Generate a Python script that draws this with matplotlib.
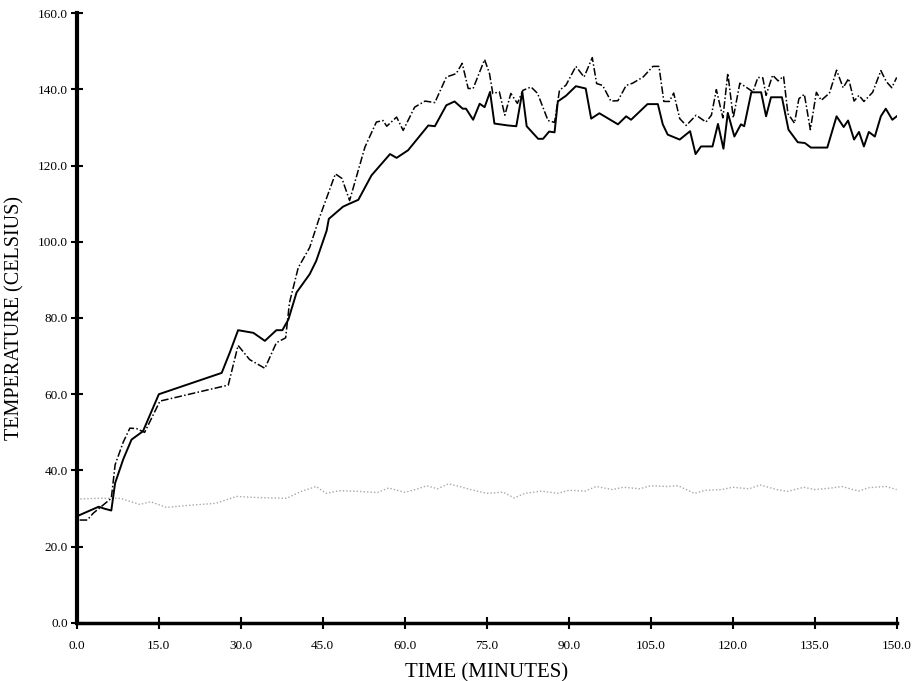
"""Temperature vs time, three traces."""
import matplotlib
matplotlib.use("Agg")
import matplotlib.pyplot as plt
import numpy as np

# solid trace
t_solid = [0.5, 2.4, 4.0, 5.0, 6.3, 7.0, 8.5, 10.0, 12.1, 15.0, 26.5, 28.0, 29.5,
           32.3, 34.4, 36.5, 37.6, 38.7, 40.2, 42.6, 43.8, 45.7, 46.1, 48.7, 49.9,
           51.5, 53.9, 57.3, 58.5, 60.6, 64.3, 65.5, 67.6, 69.1, 70.6, 71.2, 72.5,
           73.7, 74.6, 75.6, 76.4, 78.9, 80.4, 81.5, 82.3, 84.4, 85.3, 86.4, 87.4,
           88.0, 89.5, 91.3, 93.1, 94.1, 95.6, 99.0, 100.5, 101.4, 104.4, 106.3,
           107.2, 108.1, 110.3, 112.2, 113.2, 114.2, 116.3, 117.3, 118.3, 119.1,
           120.3, 121.5, 122.1, 123.4, 125.2, 126.1, 127.0, 129.0, 130.2, 131.9,
           133.2, 134.3, 137.3, 139.0, 140.3, 141.1, 142.2, 143.1, 144.0, 144.9,
           146.0, 147.1, 148.0, 149.2, 150.0]
y_solid = [28.3, 29.5, 30.5, 30.0, 29.5, 36.7, 43.0, 48.1, 50.3, 60.0, 65.6, 71.0, 76.8,
           76.1, 74.0, 76.8, 76.8, 79.6, 86.7, 91.5, 95.0, 102.9, 106.0, 109.2, 110.0,
           111.0, 117.4, 123.0, 122.0, 124.0, 130.5, 130.3, 135.8, 136.8, 134.9, 134.9,
           132.0, 136.2, 135.3, 139.3, 131.0, 130.5, 130.3, 139.3, 130.3, 127.0, 127.0,
           128.9, 128.7, 136.8, 138.3, 140.8, 140.2, 132.3, 133.7, 130.8, 132.9, 132.0,
           136.1, 136.1, 130.8, 128.1, 126.8, 129.0, 123.0, 125.0, 125.0, 130.9, 124.4,
           133.8, 127.6, 130.8, 130.3, 139.2, 139.2, 132.9, 137.9, 137.9, 129.4, 126.1,
           125.9, 124.7, 124.7, 132.9, 130.1, 131.8, 126.8, 128.8, 125.0, 128.8,
           127.6, 132.9, 134.9, 132.0, 132.9]

# dash-dot trace
t_dash = [0.5, 1.9, 3.0, 6.3, 7.0, 8.5, 9.7, 10.9, 12.4, 15.2, 27.7, 29.5, 31.6,
          34.4, 36.5, 38.2, 38.9, 40.5, 42.6, 44.3, 47.3, 48.5, 49.9, 52.7, 54.8,
          56.0, 56.7, 58.5, 59.7, 61.8, 63.7, 65.5, 67.6, 69.4, 70.5, 71.6, 72.5,
          74.6, 75.5, 76.1, 77.3, 78.3, 79.4, 80.6, 81.6, 83.1, 84.3, 86.2, 87.4,
          88.3, 89.5, 91.3, 92.8, 94.3, 95.1, 96.2, 97.7, 99.0, 100.5, 101.7, 103.6,
          105.4, 106.5, 107.4, 108.4, 109.2, 110.3, 111.5, 113.3, 115.1, 116.1,
          117.0, 118.2, 119.1, 120.1, 121.3, 122.5, 123.7, 124.6, 125.5, 126.1,
          127.3, 128.3, 129.3, 130.1, 131.3, 132.1, 133.1, 134.2, 135.3, 136.2,
          137.7, 139.0, 140.2, 141.2, 142.2, 143.1, 144.0, 145.6, 147.1, 148.1,
          149.1, 150.0]
y_dash = [27.0, 27.0, 28.8, 32.7, 41.5, 47.5, 51.1, 51.0, 50.0, 58.2, 62.4, 72.8, 69.1,
          66.8, 73.5, 74.8, 84.0, 93.2, 98.5, 106.0, 117.8, 116.6, 110.8, 124.8, 131.4,
          131.8, 130.3, 132.7, 129.2, 135.3, 136.9, 136.5, 143.2, 144.1, 146.8, 140.2,
          140.2, 147.8, 144.1, 138.9, 139.3, 133.2, 138.9, 136.3, 139.7, 140.6, 138.9,
          131.8, 131.3, 139.7, 141.1, 146.0, 143.2, 148.3, 141.5, 141.0, 136.9, 137.0,
          141.0, 141.6, 143.2, 146.0, 146.0, 136.8, 136.8, 139.0, 132.3, 130.5, 133.2,
          131.4, 133.2, 139.9, 132.5, 144.2, 132.5, 141.6, 140.5, 139.3, 143.1, 143.0,
          138.4, 143.7, 142.2, 143.4, 133.6, 131.1, 137.5, 138.7, 129.4, 139.2, 137.1,
          139.0, 145.0, 140.4, 142.8, 136.9, 138.4, 136.8, 139.2, 144.9, 142.0,
          140.4, 143.1]

# dotted (ambient) trace
t_dot = [0.0, 4.0, 7.9, 11.5, 13.5, 16.4, 20.0, 25.5, 29.2, 33.0, 38.4, 41.0,
         43.8, 45.6, 48.0, 51.8, 55.0, 57.0, 60.0, 62.0, 64.0, 66.0, 68.0, 70.0,
         72.0, 75.0, 78.0, 80.0, 82.0, 85.0, 88.0, 90.0, 93.0, 95.0, 98.0, 100.0,
         103.0, 105.0, 108.0, 110.0, 113.0, 115.0, 118.0, 120.0, 123.0, 125.0,
         128.0, 130.0, 133.0, 135.0, 138.0, 140.0, 143.0, 145.0, 148.0, 150.0]
y_dot = [32.5, 32.7, 32.7, 31.1, 31.8, 30.3, 30.8, 31.4, 33.2, 32.9, 32.7, 34.5,
         35.8, 34.0, 34.7, 34.5, 34.2, 35.4, 34.3, 35.0, 36.0, 35.2, 36.5, 35.8,
         35.0, 34.0, 34.3, 32.8, 34.0, 34.6, 34.0, 34.8, 34.6, 35.8, 35.0, 35.6,
         35.2, 36.0, 35.8, 36.0, 34.0, 34.8, 35.0, 35.6, 35.2, 36.2, 35.0, 34.5,
         35.6, 35.0, 35.4, 35.8, 34.6, 35.5, 35.8, 35.0]

xticks = np.arange(0, 151, 15)
yticks = np.arange(0, 161, 20)

plt.rcParams["font.family"] = ["Liberation Serif", "DejaVu Serif"]

fig = plt.figure(figsize=(9.15, 6.81), dpi=100)
ax = fig.add_axes([0.084, 0.0852, 0.896, 0.8957])

ax.plot(t_dot, y_dot, color="#a8a8a8", lw=1.0, ls=(0, (1, 1.5)))
ax.plot(t_dash, y_dash, color="black", lw=1.1, ls=(0, (5, 1.5, 1, 1.5)))
ax.plot(t_solid, y_solid, color="black", lw=1.4)

ax.set_xlim(0, 150)
ax.set_ylim(0, 160)
ax.set_xticks(xticks)
ax.set_yticks(yticks)
ax.set_xticklabels([f"{v:.1f}" for v in xticks])
ax.set_yticklabels([f"{v:.1f}" for v in yticks])
ax.tick_params(direction="inout", length=9, width=1.5, labelsize=9.5,
               colors="black")
ax.tick_params(axis="x", pad=8)
ax.tick_params(axis="y", pad=2)

for side in ("top", "right"):
    ax.spines[side].set_visible(False)
ax.spines["left"].set_linewidth(3)
ax.spines["bottom"].set_linewidth(2.5)

ax.set_xlabel("TIME (MINUTES)", fontsize=15, labelpad=8)
ax.set_ylabel("TEMPERATURE (CELSIUS)", fontsize=14.5)
ax.yaxis.set_label_coords(-0.064, 0.5)

fig.savefig("out.png", dpi=100)
